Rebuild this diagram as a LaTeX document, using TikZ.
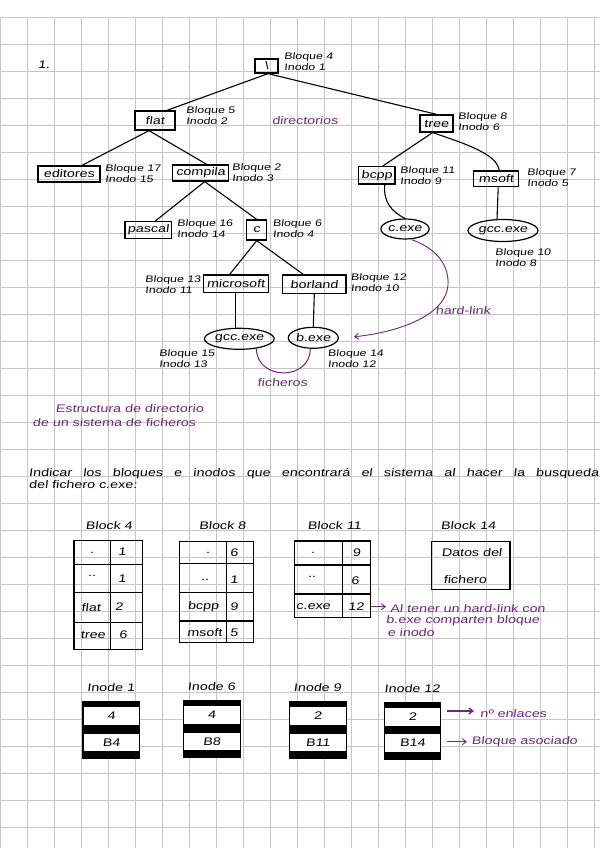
\documentclass[tikz,border=0pt]{standalone}
\usepackage{fontspec}
\usetikzlibrary{shapes.geometric,arrows.meta}
\newfontfamily\handfont{Liberation Sans}[FakeStretch=1.3,FakeSlant=0.12]
\newcommand\HandNode{\handfont\fontsize{11}{13}\selectfont}
\newcommand\HandLabel{\handfont\fontsize{9.5}{11}\selectfont}
\definecolor{handpurple}{RGB}{112,38,122}
\definecolor{gridgray}{RGB}{198,198,198}
\newcommand\InodeBox[6]{%
  \fill (#1,#2) rectangle ++(57.5,58.3);
  \node[band, anchor=north west, minimum height=18.3] (#3a) at (#1+1,#2+5.7) {#4};
  \node[band, anchor=north west, minimum height=17.7] (#3b) at (#1+1,#2+32.3) {#5};
  \node[txt] (#3h) at (#1+28.5,#2-13.5) {#6};
}
\begin{document}
\begin{tikzpicture}[x=1pt,y=-1pt,
  dirbox/.style={draw, line width=1.3pt, inner sep=0pt, font=\HandNode},
  filenode/.style={draw, ellipse, line width=1.2pt, inner sep=0pt, font=\HandNode},
  lbl/.style={anchor=west, align=left, inner sep=0pt, font=\HandLabel},
  txt/.style={inner sep=0pt, font=\HandNode},
  ptxt/.style={inner sep=0pt, font=\HandNode, text=handpurple},
  edge/.style={line width=1.1pt},
  purp/.style={draw=handpurple, line width=1pt},
  tbl/.style={line width=1.5pt},
  band/.style={fill=white, minimum width=55.5, inner sep=0pt, font=\HandNode},
  parrow/.style={draw=handpurple, line width=0.9pt, -{Straight Barb[length=4pt,width=6pt]}}
]
\fill[white] (0,0) rectangle (600,848);
\useasboundingbox (0,0) rectangle (600,848);
% grid
\foreach \k in {0,...,22} \draw[gridgray, line width=0.8pt] (0.3+27*\k,17.3) -- (0.3+27*\k,848);
\foreach \k in {0,...,30} \draw[gridgray, line width=0.8pt] (0,17.3+27*\k) -- (600,17.3+27*\k);

% ---------- tree ----------
\node[txt] (one) at (44,65) {1.};
\node[dirbox, minimum width=23, minimum height=14] (root) at (266.5,66) {\textbackslash};
\node[lbl] (rootl) at (284,62) {Bloque 4\\Inodo 1};

\node[dirbox, minimum width=40, minimum height=19] (flat) at (155,120.5) {flat};
\node[lbl] (flatl) at (186,116) {Bloque 5\\Inodo 2};
\node[ptxt] (dirs) at (305,121) {directorios};
\node[dirbox, minimum width=33, minimum height=17] (tree) at (436.5,123.5) {tree};
\node[lbl] (treel) at (458,121.7) {Bloque 8\\Inodo 6};

\node[dirbox, minimum width=62, minimum height=16] (editores) at (69,174) {editores};
\node[lbl] (editoresl) at (105,174) {Bloque 17\\Inodo 15};
\node[dirbox, minimum width=56, minimum height=16] (compila) at (200.7,173) {compila};
\node[lbl] (compilal) at (232,173) {Bloque 2\\Inodo 3};
\node[dirbox, minimum width=36.4, minimum height=17.3] (bcpp) at (376.8,175.3) {bcpp};
\node[lbl] (bcppl) at (400,175.7) {Bloque 11\\Inodo 9};
\node[dirbox, minimum width=45, minimum height=15.7] (msoft) at (496.2,178.8) {msoft};
\node[lbl] (msoftl) at (527,178) {Bloque 7\\Inodo 5};

\node[dirbox, minimum width=46.7, minimum height=16.7] (pascal) at (148.3,230) {pascal};
\node[lbl] (pascall) at (177,229) {Bloque 16\\Inodo 14};
\node[dirbox, minimum width=20, minimum height=20] (c) at (256.7,230) {c};
\node[lbl] (cl) at (272.7,229) {Bloque 6\\Inodo 4};
\node[filenode, minimum width=47, minimum height=20] (cexe) at (405,229) {c.exe};
\node[filenode, minimum width=70, minimum height=22] (gccr) at (503,230.5) {gcc.exe};
\node[lbl] (gccrl) at (495,258) {Bloque 10\\Inodo 8};

\node[dirbox, minimum width=65, minimum height=17.7] (microsoft) at (235.8,283.8) {microsoft};
\node[lbl] (microsoftl) at (145,285) {Bloque 13\\Inodo 11};
\node[dirbox, minimum width=63.3, minimum height=18.3] (borland) at (314.3,284.2) {borland};
\node[lbl] (borlandl) at (350.7,283) {Bloque 12\\Inodo 10};

\node[filenode, minimum width=67, minimum height=21] (gccl) at (239.3,338.8) {gcc.exe};
\node[lbl] (gccll) at (159,359) {Bloque 15\\Inodo 13};
\node[filenode, minimum width=50, minimum height=21] (bexe) at (313.3,337.8) {b.exe};
\node[lbl] (bexel) at (327.7,359) {Bloque 14\\Inodo 12};

% edges
\draw[edge] ([xshift=1.5]root.south) -- ([xshift=12]flat.north);
\draw[edge] ([xshift=1.5]root.south) -- (tree.north);
\draw[edge] ([xshift=-6]flat.south) -- ([xshift=13]editores.north);
\draw[edge] ([xshift=-6]flat.south) -- ([xshift=6]compila.north);
\draw[edge] ([xshift=-4]tree.south) -- ([xshift=6]bcpp.north);
\draw[edge] ([xshift=-4]tree.south) .. controls (470,145) and (497,155) .. ([xshift=3]msoft.north);
\draw[edge] ([xshift=4]compila.south) -- ([xshift=7]pascal.north);
\draw[edge] ([xshift=4]compila.south) -- (c.north);
\draw[edge] ([xshift=8]bcpp.south) .. controls (383,202) and (392,212) .. (cexe.north);
\draw[edge] ([xshift=2]msoft.south) -- ([xshift=-6,yshift=-0.5]gccr.north);
\draw[edge] (c.south) -- ([xshift=-6]microsoft.north);
\draw[edge] (c.south) -- ([xshift=-11]borland.north);
\draw[edge] (microsoft.south) -- (microsoft.south |- gccl.north);
\draw[edge] (borland.south) -- (bexe.north);

% purple annotations on tree
\draw[purp] ([xshift=17,yshift=1.5]gccl.south) .. controls (257,381) and (310,381) .. ([xshift=-3]bexe.south);
\node[ptxt] (fich) at (282.5,382.5) {ficheros};
\draw[parrow] ([xshift=6.7]cexe.south) .. controls (440,250) and (449,268) .. (448,285) .. controls (446,315) and (400,332) .. ([xshift=15,yshift=1]bexe.east);
\node[ptxt] (hl) at (463,310.5) {hard-link};

\node[ptxt, anchor=west] (cap1) at (55.5,409) {Estructura de directorio};
\node[ptxt, anchor=west] (cap2) at (32.5,422.5) {de un sistema de ficheros};

% question
\node[txt, anchor=base west] (q1) at (28.7,476) {\makebox[570pt][s]{Indicar los bloques e inodos que encontrará el sistema al hacer la busqueda}};
\node[txt, anchor=base west] (q2) at (28.7,488) {del fichero c.exe:};

% ---------- blocks ----------
\node[txt] (h4) at (109,526) {Block 4};
\node[txt] (h8) at (222.5,526) {Block 8};
\node[txt] (h11) at (334.5,526) {Block 11};
\node[txt] (h14) at (468.3,526) {Block 14};

% block 4
\draw[tbl] (74,540.7) rectangle (142.3,649.3);
\draw[tbl] (110.7,540.7) -- (110.7,649.3);
\foreach \yy in {564.3,592.3,622.3} \draw[tbl] (74,\yy) -- (142.3,\yy);
\node[txt] at (92,552.5) {.};
\node[txt] at (92,576) {..};
\node[txt] at (91,607.5) {flat};
\node[txt] at (93,635) {tree};
\node[txt] at (122,552) {1};
\node[txt] at (122,579) {1};
\node[txt] at (119,607) {2};
\node[txt] at (123,635) {6};

% block 8
\draw[tbl] (179.3,541.7) rectangle (253.3,642.7);
\draw[tbl] (226.7,541.7) -- (226.7,642.7);
\foreach \yy in {563.3,592.3,621} \draw[tbl] (179.3,\yy) -- (253.3,\yy);
\node[txt] at (208,553) {.};
\node[txt] at (205,580) {..};
\node[txt] at (203.3,607) {bcpp};
\node[txt] at (204.5,633) {msoft};
\node[txt] at (234,552.5) {6};
\node[txt] at (234,579.5) {1};
\node[txt] at (234,606.5) {9};
\node[txt] at (234,632.5) {5};

% block 11
\draw[tbl] (294.3,541) rectangle (370.7,617.3);
\draw[tbl] (342.7,541) -- (342.7,617.3);
\foreach \yy in {565,594} \draw[tbl] (294.3,\yy) -- (370.7,\yy);
\node[txt] at (313,553) {.};
\node[txt] at (312,577) {..};
\node[txt] at (313.3,606.5) {c.exe};
\node[txt] at (356.5,553) {9};
\node[txt] at (355,580.5) {6};
\node[txt] at (356,606.5) {12};

% block 14
\node[draw, line width=1.5pt, minimum width=78.3, minimum height=47.6, inner sep=0pt] (b14) at (470.85,565.5) {};
\node[txt] (d1) at (471.7,552.5) {Datos del};
\node[txt] (d2) at (465,580) {fichero};

% note
\coordinate (n1s) at (371,606.7);
\coordinate (n1e) at (386,606.7);
\draw[parrow] (n1s) -- (n1e);
\node[ptxt, anchor=base west] (nt1) at (390,612) {Al tener un hard-link con};
\node[ptxt, anchor=base west] (nt2) at (386,623.5) {b.exe comparten bloque};
\node[ptxt, anchor=base west] (nt3) at (387.3,636) {e inodo};

% ---------- inodes ----------
\InodeBox{82.4}{701}{ia}{4}{B4}{Inode 1}
\InodeBox{183}{700}{ib}{4}{B8}{Inode 6}
\InodeBox{289}{701}{ic}{2}{B11}{Inode 9}
\InodeBox{383.7}{701.7}{id}{2}{B14}{Inode 12}

\coordinate (a1s) at (447.4,711);
\coordinate (a1e) at (474,711);
\draw[parrow, line width=1.4pt] (a1s) -- (a1e);
\node[ptxt, anchor=west] (enl) at (480,714) {nº enlaces};
\coordinate (a2s) at (447.4,741.7);
\coordinate (a2e) at (467,741.7);
\draw[parrow] (a2s) -- (a2e);
\node[ptxt, anchor=west] (asoc) at (471.5,742) {Bloque asociado};
\end{tikzpicture}
\end{document}
